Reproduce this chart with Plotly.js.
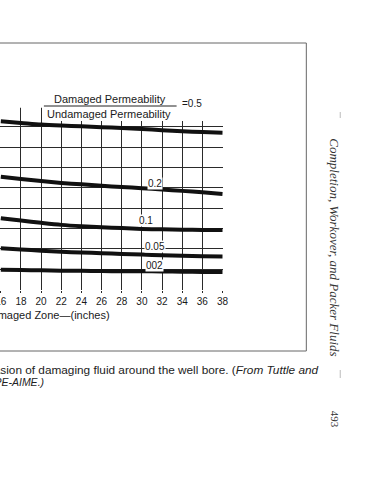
<!DOCTYPE html>
<html>
<head>
<meta charset="utf-8">
<script src="https://cdn.plot.ly/plotly-3.0.1.min.js"></script>
<style>
  html, body { margin: 0; padding: 0; background: #ffffff; }
  #chart { width: 380px; height: 480px; }
</style>
</head>
<body>
<div id="chart"></div>
<script>
// Depth of damaged zone (inches)
const depthInches = [16, 18, 20, 22, 24, 26, 28, 30, 32, 34, 36, 38];

// Productivity ratio for each damaged/undamaged permeability ratio
const ratioLabels = ["0.5", "0.2", "0.1", "0.05", "002"];
const pr_05  = [0.827, 0.819, 0.811, 0.806, 0.802, 0.798, 0.794, 0.789, 0.783, 0.778, 0.774, 0.771];
const pr_02  = [0.554, 0.543, 0.533, 0.524, 0.517, 0.510, 0.504, 0.498, 0.492, 0.485, 0.478, 0.470];
const pr_01  = [0.351, 0.339, 0.328, 0.318, 0.311, 0.306, 0.302, 0.298, 0.296, 0.294, 0.293, 0.293];
const pr_005 = [0.203, 0.197, 0.191, 0.186, 0.182, 0.179, 0.175, 0.172, 0.169, 0.166, 0.164, 0.163];
const pr_002 = [0.098, 0.096, 0.095, 0.093, 0.092, 0.091, 0.090, 0.090, 0.089, 0.088, 0.087, 0.086];

// Label anchor points (data coords) for the curve labels
const labelX = [31.27, 30.44, 31.27, 31.27];
const labelY = [0.522, 0.339, 0.212, 0.117];

const xTicks = [16, 18, 20, 22, 24, 26, 28, 30, 32, 34, 36, 38];

const series = [pr_05, pr_02, pr_01, pr_005, pr_002];

const traces = series.map((ys, i) => ({
  type: 'scatter',
  mode: 'lines',
  x: depthInches,
  y: ys,
  name: ratioLabels[i],
  line: { color: '#111111', width: 4, shape: 'spline', smoothing: 0.8 },
  hoverinfo: 'skip',
  showlegend: false
}));

// plot area: left 0px .. 223.5px, top 106px .. bottom 290px
const PW = 223.5, PT = 106, PB = 290, PH = PB - PT;
const px = v => v / PW;
const py = v => (PB - v) / PH;

const sans = 'Liberation Sans, Arial, sans-serif';
const serif = 'Liberation Serif, Times New Roman, serif';
const labelFont = { family: sans, size: 10, color: '#1a1a1a' };

function paperNote(x, y, text, font, extra) {
  return Object.assign({ x: px(x), y: py(y), xref: 'paper', yref: 'paper', text: text,
    showarrow: false, font: font, xanchor: 'center', yanchor: 'middle' }, extra || {});
}

const annotations = [];
// curve labels (0.5 is in the header fraction)
for (let i = 1; i < ratioLabels.length; i++) {
  annotations.push({
    x: labelX[i - 1], y: labelY[i - 1], xref: 'x', yref: 'y',
    text: ratioLabels[i], showarrow: false, font: labelFont,
    xanchor: 'center', yanchor: 'middle',
    bgcolor: '#ffffff', borderpad: 0
  });
}
// fraction header
annotations.push(paperNote(110, 98.5, 'Damaged Permeability', { family: sans, size: 11, color: '#1a1a1a' }));
annotations.push(paperNote(109, 113.5, 'Undamaged Permeability', { family: sans, size: 11, color: '#1a1a1a' }));
annotations.push(paperNote(180, 104, '=' + ratioLabels[0], { family: sans, size: 10, color: '#1a1a1a' }, { xanchor: 'left' }));
// x-axis title (cropped at the left)
annotations.push(paperNote(112, 315, 'Depth of Damaged Zone\u2014(inches)', { family: sans, size: 11, color: '#1a1a1a' }, { xanchor: 'right' }));
// caption (cropped at the left)
annotations.push(paperNote(322, 370,
  'Figure 9-7. Effect of invasion of damaging fluid around the well bore. (<i>From Tuttle and</i>',
  { family: sans, size: 11.8, color: '#222222' }, { xanchor: 'right' }));
annotations.push(paperNote(46, 381.5, '<i>Barkman, courtesy SPE-AIME.)</i>',
  { family: sans, size: 10.5, color: '#222222' }, { xanchor: 'right' }));
// running head, rotated
annotations.push(paperNote(335, 247.5, '<i>Completion, Workover, and Packer Fluids</i>',
  { family: serif, size: 13, color: '#333333' }, { textangle: 90 }));
annotations.push(paperNote(336, 419, '493', { family: serif, size: 11, color: '#333333' }, { textangle: 90 }));

const shapes = [
  // white area behind the header fraction (covers grid)
  { type: 'rect', xref: 'x', yref: 'y', x0: 17.2, x1: 37.9, y0: 0.893, y1: 0.95,
    fillcolor: '#ffffff', line: { width: 0 }, layer: 'above' },
  { type: 'rect', xref: 'x', yref: 'y', x0: 21.0, x1: 37.9, y0: 0.828, y1: 0.95,
    fillcolor: '#ffffff', line: { width: 0 }, layer: 'above' },
  // fraction bar
  { type: 'line', xref: 'paper', yref: 'paper', x0: px(44), x1: px(177), y0: py(106), y1: py(106),
    line: { color: '#222222', width: 1 } },
  // outer figure frame
  { type: 'rect', xref: 'paper', yref: 'paper', x0: px(-5), x1: px(307), y0: py(351), y1: py(43),
    line: { color: '#666666', width: 1 }, fillcolor: 'rgba(0,0,0,0)', layer: 'below' },
  // faint scan marks in the margin
  { type: 'line', xref: 'paper', yref: 'paper', x0: px(341), x1: px(341), y0: py(112), y1: py(118),
    line: { color: '#bbbbbb', width: 1 } },
  { type: 'line', xref: 'paper', yref: 'paper', x0: px(341), x1: px(341), y0: py(370), y1: py(378),
    line: { color: '#bbbbbb', width: 1 } }
];

const layout = {
  width: 380, height: 480,
  margin: { l: 0, r: 380 - PW, t: PT, b: 480 - PB, pad: 0 },
  paper_bgcolor: '#ffffff', plot_bgcolor: '#ffffff',
  showlegend: false,
  xaxis: {
    range: [15.92, 38.05], tickvals: xTicks, ticktext: xTicks.map(String),
    showgrid: true, gridcolor: '#2a2a2a', gridwidth: 1,
    zeroline: false, showline: false,
    ticks: 'outside', ticklen: 2, tickcolor: '#2a2a2a',
    ticklabeloverflow: 'allow',
    tickfont: { family: sans, size: 10, color: '#1a1a1a' },
    fixedrange: true
  },
  yaxis: {
    range: [-0.002, 0.902], dtick: 0.1, tick0: 0,
    showgrid: true, gridcolor: '#2a2a2a', gridwidth: 1,
    zeroline: false, showline: false, showticklabels: false, ticks: '',
    fixedrange: true
  },
  annotations: annotations,
  shapes: shapes
};

Plotly.newPlot('chart', traces, layout, { displayModeBar: false, staticPlot: true });
</script>
</body>
</html>
